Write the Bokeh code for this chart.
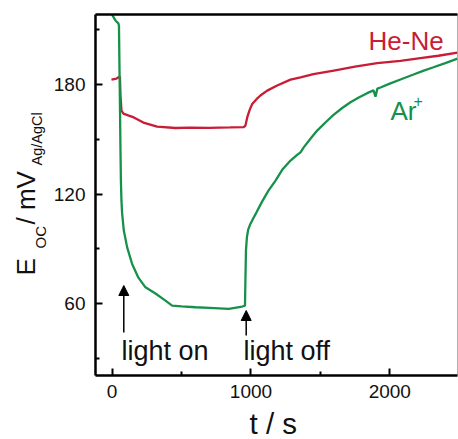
import math
from bokeh.plotting import figure
from bokeh.layouts import row, column
from bokeh.models import Range1d, FixedTicker, LinearAxis, Label, Arrow, NormalHead
from bokeh.core.properties import value
from bokeh.embed import file_html
from bokeh.resources import INLINE

# ---------------- data ----------------
ar_t = [-10, 25, 45, 49, 54, 60, 63, 67, 72, 84, 108, 144, 189, 240, 312, 384, 432, 500, 600,
        700, 840, 937, 957, 960, 964, 971, 980, 995, 1015, 1040, 1081, 1126, 1177, 1225, 1285, 1335,
        1357, 1380, 1430, 1477, 1540, 1597, 1660, 1717, 1780, 1837, 1883, 1897, 1911, 1933, 2000,
        2077, 2171, 2240, 2315, 2400, 2488]
ar_v = [219.5, 215, 213.5, 212.3, 182.2, 143.8, 127.4, 116.4, 109.3, 100, 90.8, 81.7, 74.2, 68.9,
        65.5, 61.6, 58.9, 58.5, 58, 57.7, 57.1, 58.4, 58.9, 72.6, 89, 96.5, 100.5, 103.5, 106.5,
        110, 116, 121.9, 127.4, 133.3, 138.4, 141.6, 142.9, 145.6, 150.5, 154.8, 159.5, 163.5, 167.3,
        170.3, 173, 175.3, 176.8, 173.4, 177.8, 178.4, 180.5, 182.8, 185.5, 187.5, 189.5, 191.8, 194.2]

hene_t = [-5, 31, 56, 60, 67, 81, 120, 156, 225, 324, 456, 564, 700, 850, 948, 960, 973, 990, 1009,
          1040, 1068, 1117, 1189, 1285, 1357, 1450, 1597, 1750, 1909, 2077, 2221, 2350, 2488]
hene_v = [182.7, 183.3, 184.4, 174, 165.8, 164.1, 163, 162, 159.2, 157, 156.2, 156.4, 156.3, 156.5,
          156.7, 157.5, 162, 166, 169.4, 172, 174, 176.7, 179.5, 182.7, 184, 185.7, 187.7, 189.8,
          191.7, 193, 194.5, 195.8, 197.5]

x_ticks = [0, 1000, 2000]
x_minor = [500, 1500]
y_ticks = [60, 120, 180]
y_minor = [30, 90, 150, 210]

RED = "#c81d36"
GREEN = "#16914a"
FONT = "Liberation Sans"
K = 0.3465  # distance (in em) from the middle anchor down to the alphabetic baseline

# ---------------- layout ----------------
W, H = 458, 439
YL_W = 50                 # strip for the y-axis title
XL_H = 33                 # strip for the x-axis title
PW, PH = W - YL_W, H - XL_H
L, R, T, B = 95 - YL_W, 1, 14, PH - 375
X0, X1 = -120, 2488
Y0, Y1 = 20.6, 218.4
FW, FH = PW - L - R, PH - T - B


def dx(px):
    return X0 + (px - YL_W - L) / FW * (X1 - X0)


def dy(py):
    return Y1 - (py - T) / FH * (Y1 - Y0)


p = figure(width=PW, height=PH, output_backend="svg", toolbar_location=None,
           x_range=Range1d(X0, X1), y_range=Range1d(Y0, Y1),
           min_border_left=L, min_border_right=R, min_border_top=T, min_border_bottom=B)
p.xgrid.visible = False
p.ygrid.visible = False
p.outline_line_color = "#b0b0b0"
p.outline_line_width = 1

for ax, ticks, minor, standoff in [(p.xaxis[0], x_ticks, x_minor, 9), (p.yaxis[0], y_ticks, y_minor, 10)]:
    ax.ticker = FixedTicker(ticks=ticks, minor_ticks=minor)
    ax.major_tick_in = 7
    ax.major_tick_out = 0
    ax.minor_tick_in = 4
    ax.minor_tick_out = 0
    ax.axis_line_width = 2.5
    ax.axis_line_color = "black"
    ax.major_tick_line_width = 2
    ax.minor_tick_line_width = 2
    ax.major_tick_line_color = "black"
    ax.minor_tick_line_color = "black"
    ax.major_label_text_font = FONT
    ax.major_label_text_font_size = "19px"
    ax.major_label_text_color = "#111111"
    ax.major_label_standoff = standoff

top = LinearAxis(ticker=FixedTicker(ticks=[], minor_ticks=[]), major_label_text_font_size="0px",
                 axis_line_width=2.5, axis_line_color="black",
                 major_tick_line_color=None, minor_tick_line_color=None, major_label_standoff=0)
p.add_layout(top, "above")

p.line(hene_t, hene_v, line_color=RED, line_width=2.3)
p.line(ar_t, ar_v, line_color=GREEN, line_width=2.3)


def lab(px, base_py, text, size, color="#111111"):
    p.add_layout(Label(x=dx(px), y=dy(base_py - K * size), text=text, text_font=FONT,
                       text_font_size=f"{size}px", text_color=color,
                       text_align="left", text_baseline="middle"))


# series labels
lab(368, 50, "He-Ne", 26, RED)
lab(390, 120, "Ar", 26, GREEN)
lab(413, 106, "+", 16, GREEN)

# light annotations
lab(121, 360, "light on", 27)
lab(243, 360, "light off", 27)
for ax_px, y_start, y_end in [(123.3, 332, 285), (245.7, 335, 310)]:
    p.add_layout(Arrow(end=NormalHead(size=10, fill_color="black", line_color="black"),
                       x_start=dx(ax_px), y_start=dy(y_start), x_end=dx(ax_px), y_end=dy(y_end),
                       line_width=1.5, line_color="black"))


def strip(w, h, x_range):
    f = figure(width=w, height=h, output_backend="svg", toolbar_location=None,
               x_range=x_range, y_range=Range1d(0, h), min_border=0,
               min_border_left=0, min_border_right=0, min_border_top=0, min_border_bottom=0,
               x_axis_location=None, y_axis_location=None)
    f.xgrid.visible = False
    f.ygrid.visible = False
    f.outline_line_color = None
    return f


# y-axis title strip (pixel coordinates, y from the bottom); baseline x given, text reads upward
yl = strip(YL_W, H, Range1d(0, YL_W))
for base_px, py, txt, size in [(35, 275, "E", 26), (45, 248, "OC", 15),
                               (35, 224, "/ mV", 26), (42, 165, "Ag/AgCl", 14.5)]:
    yl.text(x=[base_px - K * size], y=[H - py], text=[txt], angle=math.pi / 2,
            text_font=value(FONT), text_font_size=f"{size}px", text_color="#111111",
            text_align="left", text_baseline="middle")

# x-axis title strip (its frame lines up with the main frame, so it shares the data x range)
XT = 29.5
xl = strip(PW, XL_H, Range1d(X0, X1))
xl.text(x=[dx(249)], y=[H - (432.8 - K * XT)], text=["t / s"], text_font=value(FONT),
        text_font_size=f"{XT}px", text_color="#111111",
        text_align="left", text_baseline="middle")

layout = row(yl, column(p, xl, spacing=0), spacing=0)
open("out.html", "w").write(file_html(layout, INLINE))
